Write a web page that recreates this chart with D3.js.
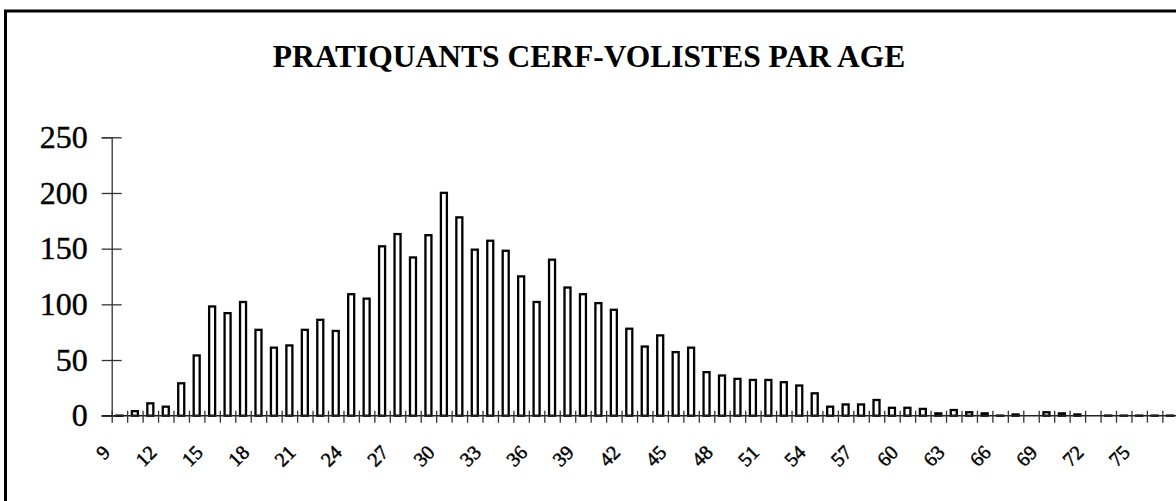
<!DOCTYPE html>
<html>
<head>
<meta charset="utf-8">
<script src="https://cdn.jsdelivr.net/npm/d3@7"></script>
<style>
  body { margin: 0; background: #fff; }
  svg { display: block; }
  .bar { fill: #fff; stroke: #000; stroke-width: 2.3; }
</style>
</head>
<body>
<div id="chart"></div>
<script>
// Chart data: number of kite flyers per age
const ages = d3.range(9, 78);
const counts = [
  1, 5, 12, 9, 30, 55, 99, 93, 103, 78,      // 9-18
  62, 64, 78, 87, 77, 110, 106, 153, 164, 143, // 19-28
  163, 201, 179, 150, 158, 149, 126, 103, 141, 116, // 29-38
  110, 102, 96, 79, 63, 73, 58, 62, 40, 37,   // 39-48
  34, 33, 33, 31, 28, 21, 9, 11, 11, 15,      // 49-58
  8, 8, 7, 3, 6, 4, 3, 1, 2, 0,               // 59-68
  4, 3, 2, 0, 1, 1, 1, 1, 1                   // 69-77
];
const labelAges = d3.range(9, 76, 3);
const yTicks = [0, 50, 100, 150, 200, 250];
const title = "PRATIQUANTS CERF-VOLISTES PAR AGE";

const data = ages.map((a, i) => ({age: a, count: counts[i]}));

const width = 1176;
const height = 501;
const margin = {left: 111.7, right: -1.8, top: 137.3, bottom: 85.3};

const svg = d3.select("#chart")
  .append("svg")
  .attr("width", width)
  .attr("height", height);

// frame (only left and top edges are visible in the picture)
svg.append("path")
  .attr("d", `M5.5,${height} L5.5,11 L${width},11`)
  .attr("fill", "none")
  .attr("stroke", "#000")
  .attr("stroke-width", 3);

// title
svg.append("text")
  .attr("x", 589)
  .attr("y", 67)
  .attr("text-anchor", "middle")
  .attr("font-family", "'Liberation Serif', 'Times New Roman', serif")
  .attr("font-weight", "bold")
  .attr("font-size", "31.5px")
  .text(title);

// scales
const xScale = d3.scaleBand()
  .domain(ages)
  .range([margin.left, width - margin.right]);

const xEdge = d3.scaleLinear()
  .domain([9, 78])
  .range([margin.left, width - margin.right]);

const yScale = d3.scaleLinear()
  .domain([0, 250])
  .range([height - margin.bottom, margin.top]);

// y axis
const yAxis = svg.append("g")
  .attr("transform", `translate(${margin.left},0)`)
  .call(d3.axisLeft(yScale).tickValues(yTicks).tickSize(10).tickPadding(14));
yAxis.select(".domain").attr("stroke", "#333").attr("stroke-width", 1.3);
yAxis.selectAll(".tick line").attr("x1", 10).attr("x2", -10).attr("stroke", "#333").attr("stroke-width", 1.3);
yAxis.selectAll(".tick text")
  .attr("font-family", "'Liberation Serif', 'Times New Roman', serif")
  .attr("font-size", "32px")
  .attr("fill", "#000")
  .attr("stroke", "#000")
  .attr("stroke-width", 0.4);
yAxis.attr("font-size", null).attr("font-family", null);

// bars
svg.selectAll(".bar")
  .data(data)
  .enter()
  .append("rect")
    .attr("class", "bar")
    .attr("x", d => xScale(d.age) + xScale.bandwidth() / 2 - 3)
    .attr("y", d => yScale(d.count) + 1)
    .attr("width", 6)
    .attr("height", d => Math.max(0, yScale(0) - yScale(d.count) - 1))
    .style("display", d => d.count > 0 ? null : "none");

// x axis with ticks crossing at category boundaries
const xAxis = svg.append("g")
  .attr("transform", `translate(0,${yScale(0)})`)
  .call(d3.axisBottom(xEdge).tickValues(d3.range(9, 79)).tickSize(7).tickFormat(""));
xAxis.select(".domain").attr("d", `M${margin.left - 10},0H${width}`).attr("stroke", "#222").attr("stroke-width", 1.6);
xAxis.selectAll(".tick line").attr("y1", -5).attr("y2", 7).attr("stroke", "#333").attr("stroke-width", 1.3);

// rotated age labels
svg.selectAll(".xlabel")
  .data(labelAges)
  .enter()
  .append("text")
    .attr("class", "xlabel")
    .attr("transform", d => `translate(${xScale(d) + xScale.bandwidth() / 2 - 8},${yScale(0) + 38}) rotate(-45)`)
    .attr("text-anchor", "end")
    .attr("font-family", "'Liberation Serif', 'Times New Roman', serif")
    .attr("font-size", "20px")
    .attr("stroke", "#000")
    .attr("stroke-width", 0.5)
    .text(d => d);
</script>
</body>
</html>
